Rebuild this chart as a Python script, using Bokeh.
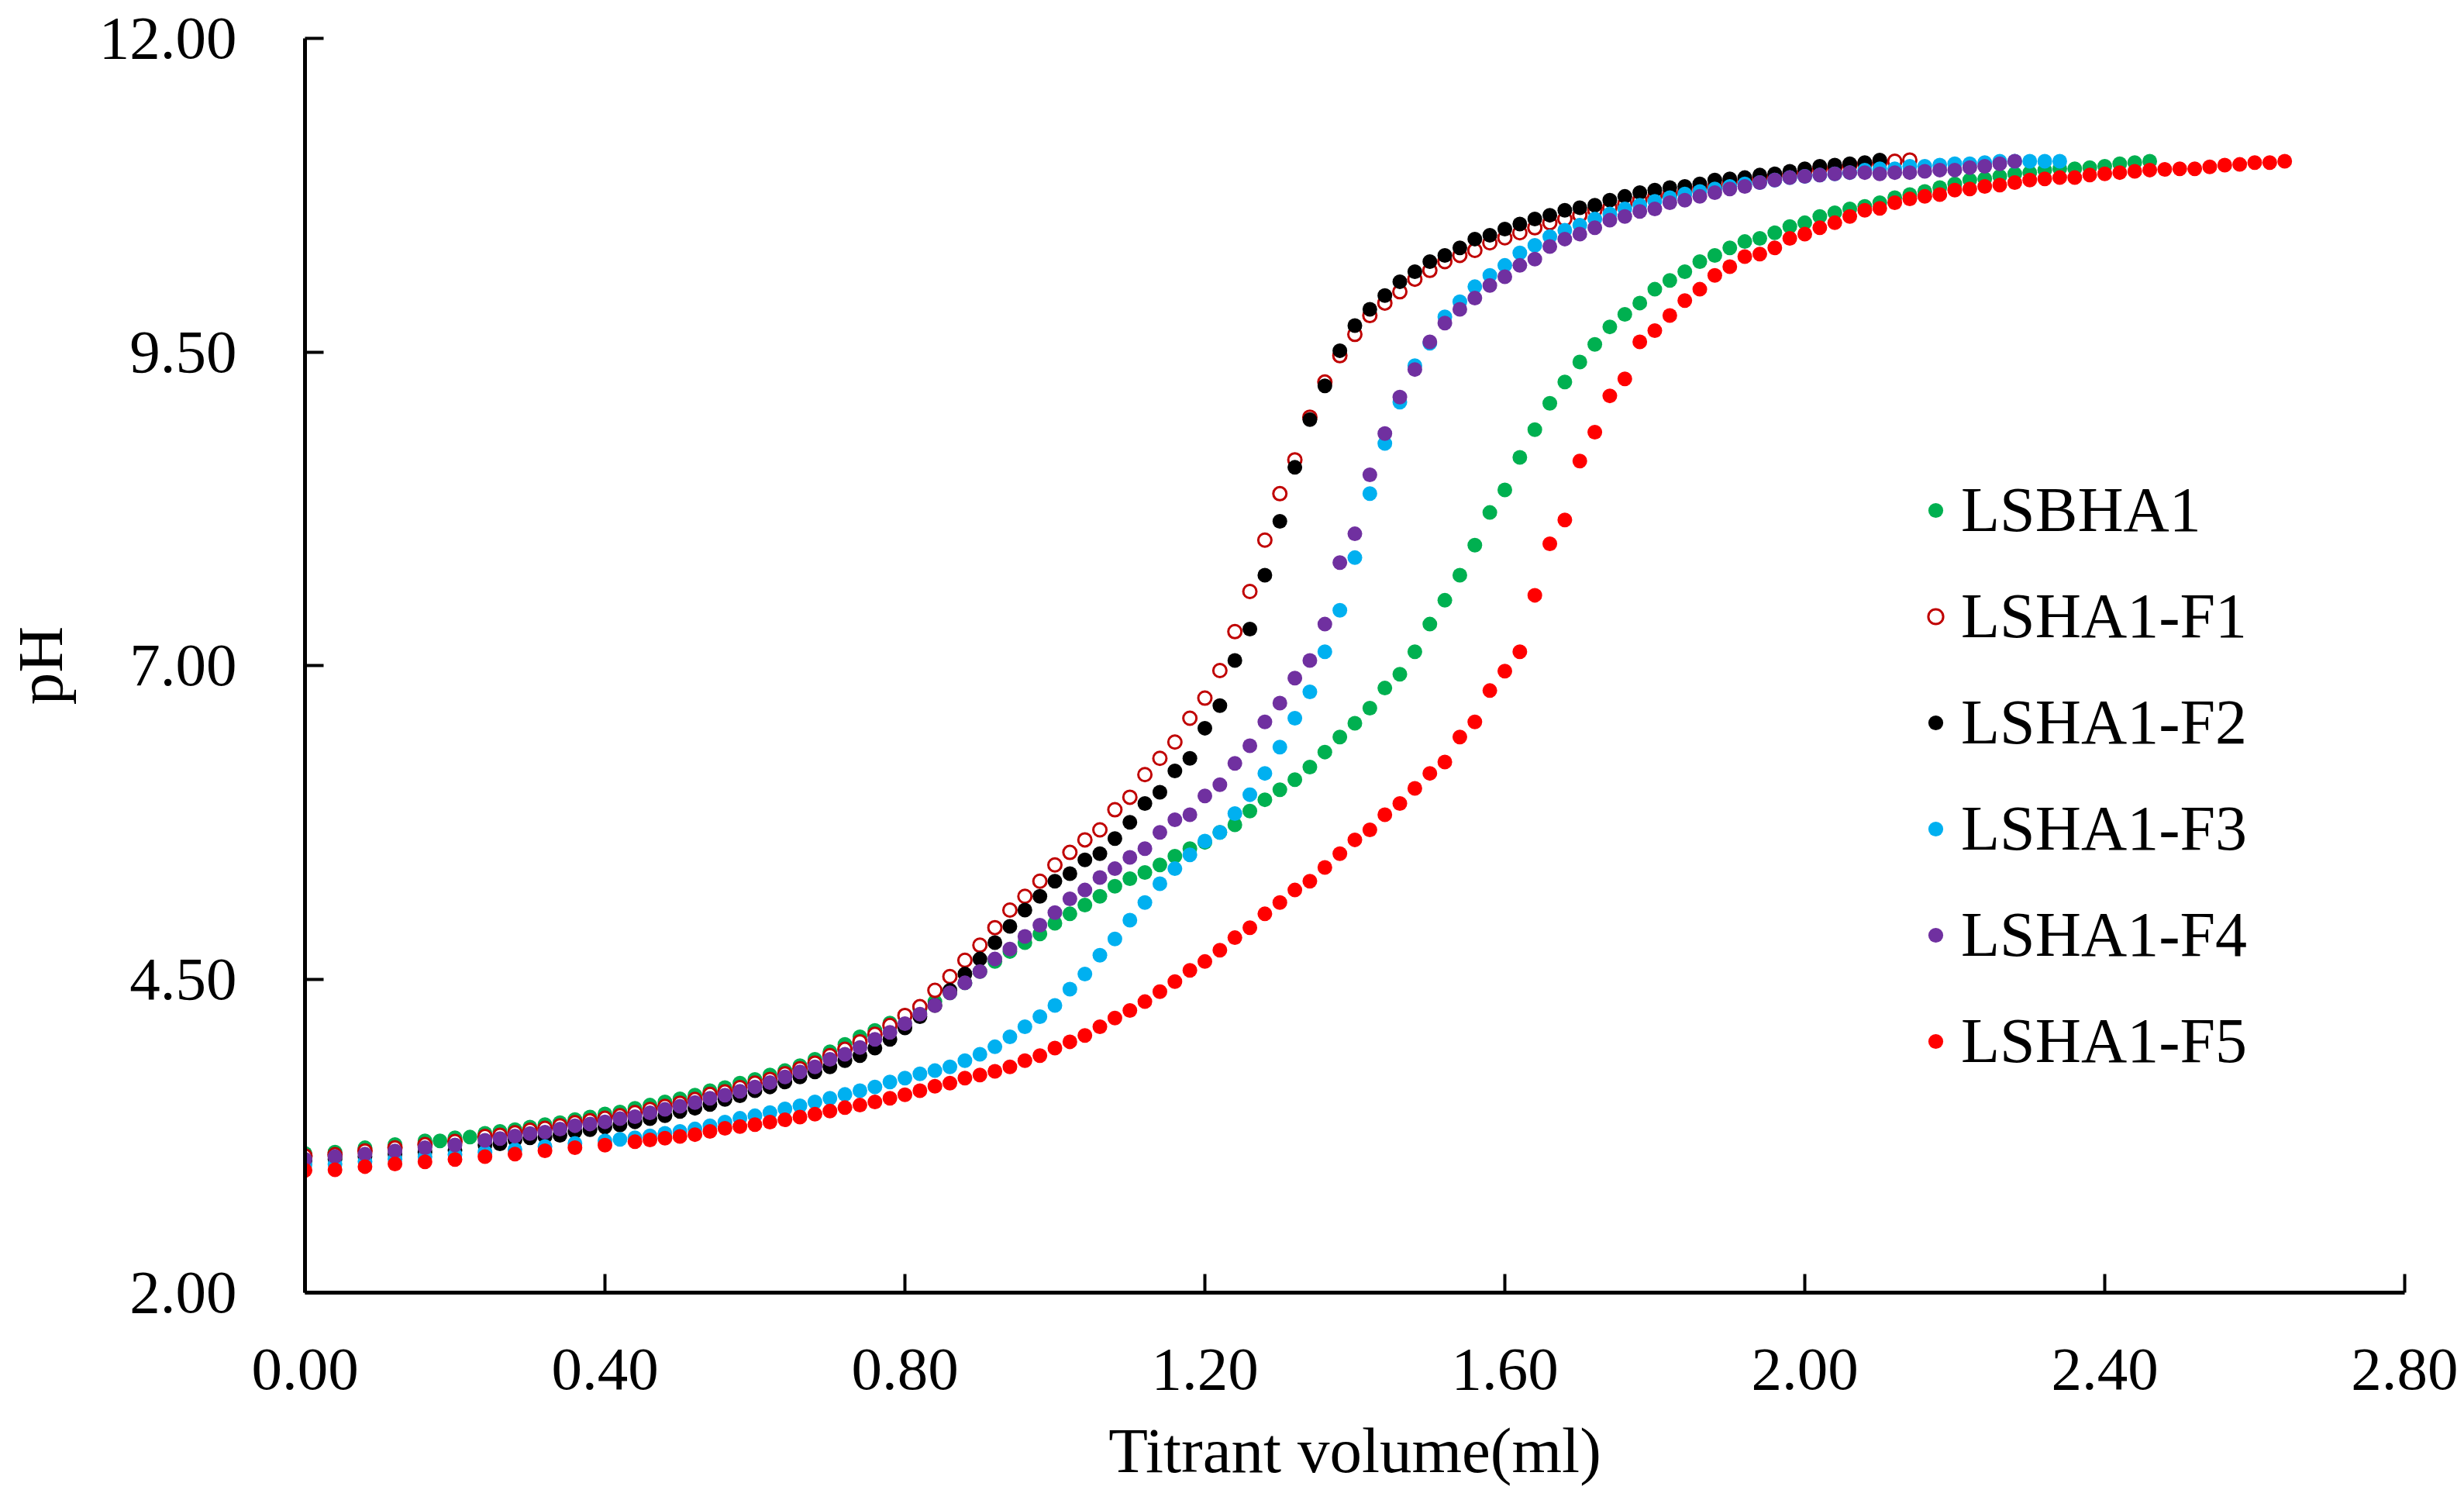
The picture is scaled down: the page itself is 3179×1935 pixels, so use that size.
from bokeh.plotting import figure
from bokeh.models import Range1d, FixedTicker, PrintfTickFormatter, Legend, LegendItem
from bokeh.embed import file_html
from bokeh.resources import INLINE

# ---------------- data ----------------
X_TICKS = [0.0, 0.4, 0.8, 1.2, 1.6, 2.0, 2.4, 2.8]
Y_TICKS = [2.0, 4.5, 7.0, 9.5, 12.0]

NAMES = ["LSBHA1", "LSHA1-F1", "LSHA1-F2", "LSHA1-F3", "LSHA1-F4", "LSHA1-F5"]

LSBHA1_X = [0.00, 0.04, 0.08, 0.12, 0.16,
            0.18, 0.20, 0.22, 0.24, 0.26, 0.28, 0.30, 0.32, 0.34, 0.36,
            0.38, 0.40, 0.42, 0.44, 0.46, 0.48, 0.50, 0.52, 0.54, 0.56,
            0.58, 0.60, 0.62, 0.64, 0.66, 0.68, 0.70, 0.72, 0.74, 0.76,
            0.78, 0.80, 0.82, 0.84, 0.86, 0.88, 0.90, 0.92, 0.94, 0.96,
            0.98, 1.00, 1.02, 1.04, 1.06, 1.08, 1.10, 1.12, 1.14, 1.16,
            1.18, 1.20, 1.22, 1.24, 1.26, 1.28, 1.30, 1.32, 1.34, 1.36,
            1.38, 1.40, 1.42, 1.44, 1.46, 1.48, 1.50, 1.52, 1.54, 1.56,
            1.58, 1.60, 1.62, 1.64, 1.66, 1.68, 1.70, 1.72, 1.74, 1.76,
            1.78, 1.80, 1.82, 1.84, 1.86, 1.88, 1.90, 1.92, 1.94, 1.96,
            1.98, 2.00, 2.02, 2.04, 2.06, 2.08, 2.10, 2.12, 2.14, 2.16,
            2.18, 2.20, 2.22, 2.24, 2.26, 2.28, 2.30, 2.32, 2.34, 2.36,
            2.38, 2.40, 2.42, 2.44, 2.46]
LSBHA1_PH = [3.11, 3.12, 3.155, 3.18, 3.21,
             3.21, 3.235, 3.24, 3.27, 3.285, 3.30, 3.32, 3.34, 3.355, 3.38,
             3.40, 3.425, 3.44, 3.47, 3.495, 3.52, 3.545, 3.575, 3.61, 3.635,
             3.67, 3.70, 3.735, 3.77, 3.81, 3.86, 3.92, 3.98, 4.04, 4.09,
             4.15, 4.21, 4.26, 4.32, 4.39, 4.47, 4.56, 4.64, 4.72, 4.79,
             4.86, 4.945, 5.02, 5.09, 5.16, 5.24, 5.30, 5.35, 5.41, 5.48,
             5.54, 5.59, 5.67, 5.73, 5.84, 5.93, 6.01, 6.09, 6.19, 6.31,
             6.43, 6.54, 6.66, 6.82, 6.93, 7.11, 7.33, 7.52, 7.72, 7.96,
             8.22, 8.40, 8.66, 8.88, 9.09, 9.26, 9.42, 9.56, 9.70, 9.80,
             9.89, 10.00, 10.07, 10.14, 10.22, 10.27, 10.33, 10.38, 10.405, 10.45,
             10.50, 10.53, 10.58, 10.61, 10.64, 10.66, 10.69, 10.73, 10.755, 10.78,
             10.81, 10.84, 10.87, 10.88, 10.90, 10.92, 10.93, 10.95, 10.96, 10.96,
             10.97, 10.98, 11.00, 11.01, 11.02]

F1_X = [0.00, 0.04, 0.08, 0.12, 0.16, 0.20, 0.24,
        0.26, 0.28, 0.30, 0.32, 0.34, 0.36, 0.38, 0.40, 0.42, 0.44,
        0.46, 0.48, 0.50, 0.52, 0.54, 0.56, 0.58, 0.60, 0.62, 0.64,
        0.66, 0.68, 0.70, 0.72, 0.74, 0.76, 0.78, 0.80, 0.82, 0.84,
        0.86, 0.88, 0.90, 0.92, 0.94, 0.96, 0.98, 1.00, 1.02, 1.04,
        1.06, 1.08, 1.10, 1.12, 1.14, 1.16, 1.18, 1.20, 1.22, 1.24,
        1.26, 1.28, 1.30, 1.32, 1.34, 1.36, 1.38, 1.40, 1.42, 1.44,
        1.46, 1.48, 1.50, 1.52, 1.54, 1.56, 1.58, 1.60, 1.62, 1.64,
        1.66, 1.68, 1.70, 1.72, 1.74, 1.76, 1.78, 1.80, 1.82, 1.84,
        1.86, 1.88, 1.90, 1.92, 1.94, 1.96, 1.98, 2.00, 2.02, 2.04,
        2.06, 2.08, 2.10, 2.12, 2.14]
F1_PH = [3.09, 3.10, 3.13, 3.155, 3.18, 3.205, 3.245,
         3.255, 3.275, 3.295, 3.31, 3.33, 3.355, 3.37, 3.39, 3.41, 3.435,
         3.46, 3.485, 3.51, 3.54, 3.58, 3.60, 3.635, 3.67, 3.70, 3.745,
         3.785, 3.83, 3.89, 3.94, 4.00, 4.06, 4.13, 4.21, 4.28, 4.41,
         4.52, 4.65, 4.77, 4.91, 5.05, 5.16, 5.28, 5.41, 5.51, 5.61,
         5.69, 5.85, 5.95, 6.13, 6.26, 6.39, 6.58, 6.74, 6.96, 7.27,
         7.59, 8.00, 8.37, 8.64, 8.98, 9.26, 9.47, 9.64, 9.79, 9.89,
         9.98, 10.08, 10.15, 10.22, 10.27, 10.31, 10.37, 10.41, 10.45, 10.49,
         10.53, 10.56, 10.59, 10.63, 10.65, 10.68, 10.71, 10.74, 10.76, 10.78,
         10.81, 10.82, 10.85, 10.87, 10.89, 10.90, 10.92, 10.94, 10.96, 10.97,
         10.99, 11.00, 11.01, 11.02, 11.03]

F2_X = [0.00, 0.04, 0.08, 0.12, 0.16, 0.20, 0.24,
        0.26, 0.28, 0.30, 0.32, 0.34, 0.36, 0.38, 0.40, 0.42, 0.44,
        0.46, 0.48, 0.50, 0.52, 0.54, 0.56, 0.58, 0.60, 0.62, 0.64,
        0.66, 0.68, 0.70, 0.72, 0.74, 0.76, 0.78, 0.80, 0.82, 0.84,
        0.86, 0.88, 0.90, 0.92, 0.94, 0.96, 0.98, 1.00, 1.02, 1.04,
        1.06, 1.08, 1.10, 1.12, 1.14, 1.16, 1.18, 1.20, 1.22, 1.24,
        1.26, 1.28, 1.30, 1.32, 1.34, 1.36, 1.38, 1.40, 1.42, 1.44,
        1.46, 1.48, 1.50, 1.52, 1.54, 1.56, 1.58, 1.60, 1.62, 1.64,
        1.66, 1.68, 1.70, 1.72, 1.74, 1.76, 1.78, 1.80, 1.82, 1.84,
        1.86, 1.88, 1.90, 1.92, 1.94, 1.96, 1.98, 2.00, 2.02, 2.04,
        2.06, 2.08, 2.10]
F2_PH = [3.05, 3.065, 3.085, 3.105, 3.12, 3.135, 3.177,
         3.187, 3.218, 3.234, 3.243, 3.255, 3.284, 3.30, 3.321, 3.337, 3.362,
         3.387, 3.41, 3.444, 3.47, 3.50, 3.54, 3.57, 3.61, 3.64, 3.68,
         3.72, 3.76, 3.80, 3.85, 3.89, 3.95, 4.02, 4.11, 4.20, 4.29,
         4.41, 4.54, 4.66, 4.79, 4.92, 5.05, 5.16, 5.28, 5.34, 5.45,
         5.50, 5.62, 5.75, 5.90, 5.99, 6.16, 6.26, 6.50, 6.68, 7.04,
         7.29, 7.72, 8.15, 8.58, 8.96, 9.23, 9.51, 9.71, 9.84, 9.95,
         10.06, 10.14, 10.22, 10.27, 10.33, 10.40, 10.43, 10.48, 10.52, 10.56,
         10.59, 10.63, 10.65, 10.67, 10.71, 10.74, 10.77, 10.79, 10.81, 10.82,
         10.84, 10.87, 10.88, 10.89, 10.91, 10.92, 10.94, 10.96, 10.98, 10.99,
         11.00, 11.01, 11.03]

F3_X = [0.00, 0.04, 0.08, 0.12, 0.16, 0.20, 0.24, 0.28, 0.32, 0.36, 0.40,
        0.42, 0.44, 0.46, 0.48, 0.50, 0.52, 0.54, 0.56, 0.58, 0.60,
        0.62, 0.64, 0.66, 0.68, 0.70, 0.72, 0.74, 0.76, 0.78, 0.80,
        0.82, 0.84, 0.86, 0.88, 0.90, 0.92, 0.94, 0.96, 0.98, 1.00,
        1.02, 1.04, 1.06, 1.08, 1.10, 1.12, 1.14, 1.16, 1.18, 1.20,
        1.22, 1.24, 1.26, 1.28, 1.30, 1.32, 1.34, 1.36, 1.38, 1.40,
        1.42, 1.44, 1.46, 1.48, 1.50, 1.52, 1.54, 1.56, 1.58, 1.60,
        1.62, 1.64, 1.66, 1.68, 1.70, 1.72, 1.74, 1.76, 1.78, 1.80,
        1.82, 1.84, 1.86, 1.88, 1.90, 1.92, 1.94, 1.96, 1.98, 2.00,
        2.02, 2.04, 2.06, 2.08, 2.10, 2.12, 2.14, 2.16, 2.18, 2.20,
        2.22, 2.24, 2.26, 2.28, 2.30, 2.32, 2.34]
F3_PH = [3.02, 3.025, 3.045, 3.065, 3.085, 3.10, 3.12, 3.14, 3.165, 3.19, 3.21,
         3.222, 3.234, 3.25, 3.27, 3.285, 3.305, 3.33, 3.36, 3.39, 3.41,
         3.435, 3.465, 3.49, 3.52, 3.55, 3.58, 3.61, 3.64, 3.68, 3.71,
         3.745, 3.77, 3.80, 3.85, 3.90, 3.96, 4.04, 4.12, 4.20, 4.29,
         4.42, 4.54, 4.69, 4.82, 4.97, 5.11, 5.26, 5.38, 5.49, 5.60,
         5.67, 5.82, 5.97, 6.14, 6.35, 6.58, 6.79, 7.11, 7.44, 7.86,
         8.37, 8.77, 9.10, 9.39, 9.57, 9.78, 9.90, 10.02, 10.11, 10.19,
         10.29, 10.35, 10.42, 10.47, 10.51, 10.56, 10.60, 10.64, 10.67, 10.70,
         10.73, 10.76, 10.78, 10.80, 10.82, 10.84, 10.85, 10.87, 10.89, 10.90,
         10.91, 10.92, 10.93, 10.95, 10.96, 10.96, 10.98, 10.98, 10.99, 11.00,
         11.00, 11.01, 11.02, 11.02, 11.02, 11.02, 11.02]

F4_X = [0.00, 0.04, 0.08, 0.12, 0.16, 0.20, 0.24,
        0.26, 0.28, 0.30, 0.32, 0.34, 0.36, 0.38, 0.40, 0.42, 0.44,
        0.46, 0.48, 0.50, 0.52, 0.54, 0.56, 0.58, 0.60, 0.62, 0.64,
        0.66, 0.68, 0.70, 0.72, 0.74, 0.76, 0.78, 0.80, 0.82, 0.84,
        0.86, 0.88, 0.90, 0.92, 0.94, 0.96, 0.98, 1.00, 1.02, 1.04,
        1.06, 1.08, 1.10, 1.12, 1.14, 1.16, 1.18, 1.20, 1.22, 1.24,
        1.26, 1.28, 1.30, 1.32, 1.34, 1.36, 1.38, 1.40, 1.42, 1.44,
        1.46, 1.48, 1.50, 1.52, 1.54, 1.56, 1.58, 1.60, 1.62, 1.64,
        1.66, 1.68, 1.70, 1.72, 1.74, 1.76, 1.78, 1.80, 1.82, 1.84,
        1.86, 1.88, 1.90, 1.92, 1.94, 1.96, 1.98, 2.00, 2.02, 2.04,
        2.06, 2.08, 2.10, 2.12, 2.14, 2.16, 2.18, 2.20, 2.22, 2.24,
        2.26, 2.28]
F4_PH = [3.063, 3.084, 3.104, 3.129, 3.156, 3.177, 3.214,
         3.228, 3.249, 3.269, 3.28, 3.304, 3.331, 3.345, 3.362, 3.387, 3.403,
         3.434, 3.461, 3.486, 3.516, 3.55, 3.575, 3.605, 3.64, 3.675, 3.72,
         3.76, 3.80, 3.86, 3.90, 3.955, 4.02, 4.075, 4.145, 4.22, 4.29,
         4.39, 4.47, 4.56, 4.66, 4.74, 4.84, 4.93, 5.03, 5.14, 5.21,
         5.31, 5.38, 5.47, 5.54, 5.67, 5.77, 5.81, 5.96, 6.05, 6.22,
         6.36, 6.55, 6.70, 6.90, 7.04, 7.33, 7.82, 8.05, 8.52, 8.85,
         9.14, 9.36, 9.58, 9.73, 9.84, 9.93, 10.03, 10.10, 10.19, 10.24,
         10.34, 10.40, 10.44, 10.49, 10.55, 10.58, 10.62, 10.64, 10.69, 10.71,
         10.74, 10.77, 10.80, 10.82, 10.85, 10.87, 10.89, 10.90, 10.91, 10.92,
         10.93, 10.93, 10.92, 10.93, 10.93, 10.94, 10.95, 10.95, 10.97, 10.98,
         11.00, 11.02]

F5_X = [0.00, 0.04, 0.08, 0.12, 0.16, 0.20, 0.24, 0.28, 0.32, 0.36, 0.40, 0.44,
        0.46, 0.48, 0.50, 0.52, 0.54, 0.56, 0.58, 0.60, 0.62, 0.64,
        0.66, 0.68, 0.70, 0.72, 0.74, 0.76, 0.78, 0.80, 0.82, 0.84,
        0.86, 0.88, 0.90, 0.92, 0.94, 0.96, 0.98, 1.00, 1.02, 1.04,
        1.06, 1.08, 1.10, 1.12, 1.14, 1.16, 1.18, 1.20, 1.22, 1.24,
        1.26, 1.28, 1.30, 1.32, 1.34, 1.36, 1.38, 1.40, 1.42, 1.44,
        1.46, 1.48, 1.50, 1.52, 1.54, 1.56, 1.58, 1.60, 1.62, 1.64,
        1.66, 1.68, 1.70, 1.72, 1.74, 1.76, 1.78, 1.80, 1.82, 1.84,
        1.86, 1.88, 1.90, 1.92, 1.94, 1.96, 1.98, 2.00, 2.02, 2.04,
        2.06, 2.08, 2.10, 2.12, 2.14, 2.16, 2.18, 2.20, 2.22, 2.24,
        2.26, 2.28, 2.30, 2.32, 2.34, 2.36, 2.38, 2.40, 2.42, 2.44,
        2.46, 2.48, 2.50, 2.52, 2.54, 2.56, 2.58, 2.60, 2.62, 2.64]
F5_PH = [2.975, 2.98, 3.005, 3.026, 3.043, 3.061, 3.084, 3.104, 3.131, 3.156, 3.176, 3.203,
         3.218, 3.232, 3.245, 3.26, 3.285, 3.31, 3.324, 3.34, 3.36, 3.378,
         3.40, 3.423, 3.448, 3.475, 3.495, 3.52, 3.55, 3.578, 3.61, 3.645,
         3.67, 3.71, 3.735, 3.765, 3.80, 3.85, 3.89, 3.95, 4.00, 4.05,
         4.12, 4.19, 4.25, 4.32, 4.40, 4.48, 4.57, 4.64, 4.73, 4.83,
         4.91, 5.02, 5.11, 5.21, 5.28, 5.39, 5.50, 5.61, 5.69, 5.81,
         5.90, 6.02, 6.14, 6.23, 6.43, 6.55, 6.80, 6.955, 7.11, 7.56,
         7.97, 8.16, 8.63, 8.86, 9.15, 9.285, 9.58, 9.67, 9.79, 9.91,
         10.00, 10.11, 10.18, 10.26, 10.28, 10.33, 10.405, 10.44, 10.49, 10.53,
         10.58, 10.63, 10.645, 10.69, 10.72, 10.74, 10.755, 10.79, 10.80, 10.82,
         10.83, 10.85, 10.87, 10.88, 10.89, 10.89, 10.91, 10.92, 10.93, 10.94,
         10.95, 10.955, 10.96, 10.96, 10.976, 10.99, 10.995, 11.01, 11.01, 11.02]

COLORS = ["#00B050", "#C00000", "#000000", "#00B0F0", "#7030A0", "#FF0000"]
FILLED = [True, False, True, True, True, True]

SERIES_X = [LSBHA1_X, F1_X, F2_X, F3_X, F4_X, F5_X]
SERIES_Y = [LSBHA1_PH, F1_PH, F2_PH, F3_PH, F4_PH, F5_PH]

# ---------------- figure ----------------
FONT = "Liberation Serif"
TICK_FS = "79px"
TITLE_FS = "83px"
LEGEND_FS = "82px"

p = figure(width=3171, height=1927,
           x_range=Range1d(0, 2.8), y_range=Range1d(2, 12),
           output_backend="svg", toolbar_location=None,
           min_border_left=393, min_border_right=69,
           min_border_top=49, min_border_bottom=260)
p.outline_line_color = None
p.grid.visible = False
p.background_fill_color = "white"
p.border_fill_color = "white"

items = []
for name, xs, ys, col, filled in zip(NAMES, SERIES_X, SERIES_Y, COLORS, FILLED):
    if filled:
        r = p.scatter(xs, ys, size=19, marker="circle",
                      fill_color=col, line_color=None)
    else:
        r = p.scatter(xs, ys, size=17, marker="circle",
                      fill_color="white", line_color=col, line_width=3)
    items.append(LegendItem(label=name, renderers=[r]))

# axes
for ax in (p.xaxis[0], p.yaxis[0]):
    ax.axis_line_width = 5
    ax.axis_line_color = "black"
    ax.major_tick_line_width = 4
    ax.major_tick_line_color = "black"
    ax.major_tick_in = 24
    ax.major_tick_out = 0
    ax.minor_tick_line_color = None
    ax.major_label_text_font = FONT
    ax.major_label_text_font_size = TICK_FS
    ax.major_label_text_color = "black"
    ax.axis_label_text_font = FONT
    ax.axis_label_text_font_size = TITLE_FS
    ax.axis_label_text_font_style = "normal"
    ax.axis_label_text_color = "black"

p.xaxis.ticker = FixedTicker(ticks=X_TICKS)
p.yaxis.ticker = FixedTicker(ticks=Y_TICKS)
p.xaxis.formatter = PrintfTickFormatter(format="%.2f")
p.yaxis.formatter = PrintfTickFormatter(format="%.2f")
p.xaxis.axis_label = "Titrant volume(ml)"
p.yaxis.axis_label = "pH"
p.xaxis.major_label_standoff = 73
p.yaxis.major_label_standoff = 88
p.xaxis.axis_label_standoff = 30
p.yaxis.axis_label_standoff = 27

legend = Legend(items=items, location=(2080, 277),
                label_text_font=FONT, label_text_font_size=LEGEND_FS,
                label_text_color="black",
                glyph_width=48, glyph_height=48, label_standoff=9,
                spacing=43, padding=0, margin=0,
                border_line_color=None, background_fill_alpha=0)
p.add_layout(legend)

open("out.html", "w").write(file_html(p, INLINE))
